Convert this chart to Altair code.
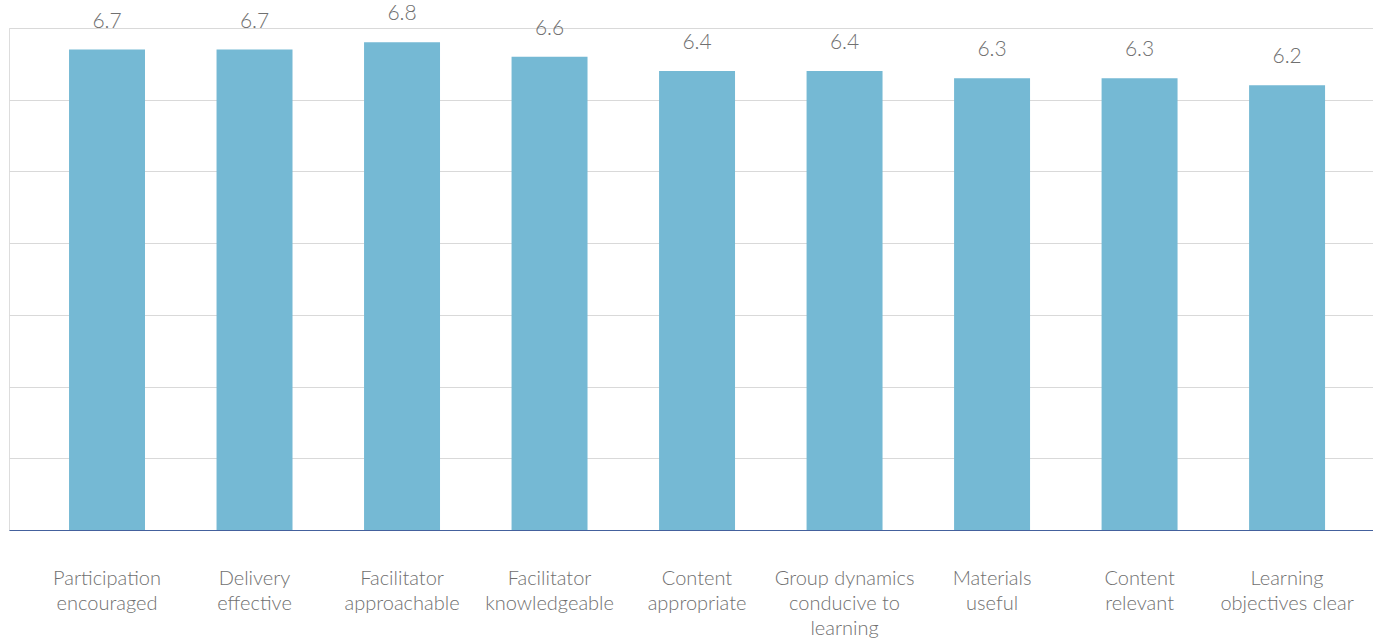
import altair as alt
import pandas as pd

categories = [
    "Participation|encouraged",
    "Delivery|effective",
    "Facilitator|approachable",
    "Facilitator|knowledgeable",
    "Content|appropriate",
    "Group dynamics|conducive to|learning",
    "Materials|useful",
    "Content|relevant",
    "Learning|objectives clear",
]
scores = [6.7, 6.7, 6.8, 6.6, 6.4, 6.4, 6.3, 6.3, 6.2]

df = pd.DataFrame({"item": categories, "score": scores})

FONT = "Lato"
TEXT_COLOR = "#707070"

x = alt.X(
    "item:N",
    sort=None,
    title=None,
    scale=alt.Scale(paddingInner=0.485, paddingOuter=0.366, align=0.556),
    axis=alt.Axis(
        labelAngle=0,
        ticks=False,
        domainColor="#44619d",
        domainWidth=1.2,
        labelPadding=48,
        labelFontSize=20,
        labelFont=FONT,
        labelFontWeight=300,
        labelColor=TEXT_COLOR,
        labelLineHeight=25,
        labelBaseline="middle",
        labelExpr="split(datum.label, '|')",
    ),
)
y = alt.Y(
    "score:Q",
    title=None,
    scale=alt.Scale(domain=[0, 7], nice=False),
    axis=alt.Axis(
        values=[0, 1, 2, 3, 4, 5, 6, 7],
        labels=False,
        ticks=False,
        domain=False,
        gridColor="#d9d9d9",
        gridWidth=1,
    ),
)

bars = alt.Chart(df).mark_bar(color="#75b9d4").encode(x=x, y=y)
labels = alt.Chart(df).mark_text(
    dy=-28, fontSize=21, font=FONT, fontWeight=300, color=TEXT_COLOR
).encode(x=x, y=y, text=alt.Text("score:Q", format=".1f"))

chart = (
    alt.layer(bars, labels)
    .properties(
        width=1364,
        height=502,
        autosize=alt.AutoSizeParams(type="none"),
        padding={"left": 9, "top": 28, "right": 0, "bottom": 109},
    )
    .configure_view(stroke=None)
    .configure(background="white")
)

chart.save("out.html", embed_options={"renderer": "svg", "actions": False})
